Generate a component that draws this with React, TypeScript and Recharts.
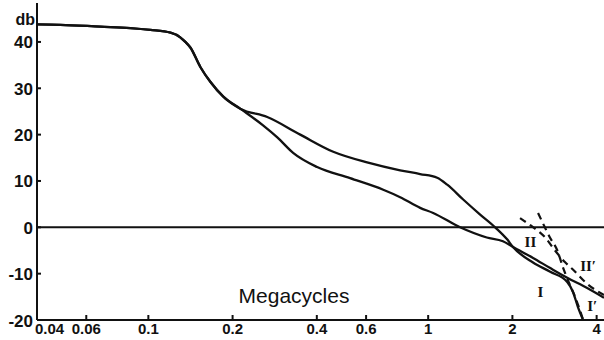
import React from "react";
import {
  LineChart,
  Line,
  XAxis,
  YAxis,
  ReferenceLine,
  ReferenceDot,
} from "recharts";

// Frequency (Megacycles) and response (db)
const curveIFreq = [0.04, 0.0485, 0.0674, 0.0862, 0.1017, 0.12, 0.13, 0.1356, 0.1413, 0.1534, 0.1665, 0.1853, 0.213, 0.266, 0.349, 0.458, 0.605, 0.794, 0.936, 1.077, 1.17, 1.334, 1.53, 1.735, 1.915, 2.01, 2.37, 2.73, 3.14, 3.29, 3.43, 3.58];
const curveIDb = [43.8, 43.7, 43.3, 43.0, 42.6, 42.0, 41.0, 40.0, 38.8, 34.6, 31.4, 28.2, 25.6, 23.8, 20.0, 16.3, 14.0, 12.3, 11.5, 10.7, 9.2, 6.0, 2.8, 0, -2.6, -4.25, -7.6, -9.6, -11.8, -13.9, -17.2, -20];

const curveIIFreq = [0.04, 0.0485, 0.0674, 0.0862, 0.1017, 0.12, 0.13, 0.1356, 0.1413, 0.1534, 0.1665, 0.1853, 0.213, 0.257, 0.289, 0.33, 0.401, 0.526, 0.691, 0.794, 0.936, 1.042, 1.3, 1.62, 1.85, 2.01, 2.37, 2.73, 3.14, 3.7, 4.25];
const curveIIDb = [43.8, 43.7, 43.3, 43.0, 42.6, 42.0, 41.0, 40.0, 38.8, 34.6, 31.4, 28.2, 25.6, 22.0, 19.4, 16.0, 13.0, 10.6, 8.1, 6.5, 4.2, 3.1, 0, -2.2, -3.0, -4.25, -6.6, -8.8, -10.9, -13.1, -15.2];

const curveIPrimeFreq = [2.47, 2.62, 2.73, 2.89, 3.03, 3.2, 3.35, 3.58];
const curveIPrimeDb = [3.1, -0.15, -2.3, -4.9, -8.6, -12.2, -15.0, -20];

const curveIIPrimeFreq = [2.13, 2.31, 2.62, 2.84, 3.08, 3.29, 3.7, 4.25];
const curveIIPrimeDb = [2.0, 0.5, -2.2, -5.0, -7.5, -9.1, -12.2, -14.6];

const xTicks = [0.04, 0.06, 0.1, 0.2, 0.4, 0.6, 1, 2, 4];
const xTickLabels = ["0.04", "0.06", "0.1", "0.2", "0.4", "0.6", "1", "2", "4"];
const yTicks = [-20, -10, 0, 10, 20, 30, 40];

const curveLabels = [
  { text: "II", f: 2.32, db: -3.1 },
  { text: "I", f: 2.52, db: -13.8 },
  { text: "II\u2032", f: 3.73, db: -8.3 },
  { text: "I\u2032", f: 3.86, db: -17.0 },
];

const zip = (fs: number[], ds: number[]) => fs.map((f, i) => ({ f, db: ds[i] }));
const dataI = zip(curveIFreq, curveIDb);
const dataII = zip(curveIIFreq, curveIIDb);
const dataIP = zip(curveIPrimeFreq, curveIPrimeDb);
const dataIIP = zip(curveIIPrimeFreq, curveIIPrimeDb);

const INK = "#111";
const FONT = "'Liberation Sans', Arial, sans-serif";

const YTick = (props: any) => {
  const { x, y, payload } = props;
  return (
    <g>
      <text
        x={x}
        y={y + 1}
        textAnchor="end"
        dominantBaseline="central"
        fontFamily={FONT}
        fontWeight="bold"
        fontSize={17}
        fill={INK}
      >
        {payload.value}
      </text>
      <line x1={x + 4} x2={x + 8} y1={y} y2={y} stroke={INK} strokeWidth={2} />
    </g>
  );
};

const XTick = (props: any) => {
  const { x, y, payload, index } = props;
  const label = xTickLabels[xTicks.indexOf(payload.value)] ?? String(payload.value);
  const first = index === 0;
  return (
    <g>
      <text
        x={first ? x - 2 : x}
        y={y}
        dy="0.78em"
        textAnchor={first ? "start" : "middle"}
        fontFamily={FONT}
        fontWeight="bold"
        fontSize={15}
        fill={INK}
      >
        {label}
      </text>
      {!first && <line x1={x} x2={x} y1={y - 2} y2={y - 7} stroke={INK} strokeWidth={2} />}
    </g>
  );
};

const YLabel = (props: any) => {
  const vb = props.viewBox || {};
  return (
    <text
      x={vb.x + vb.width - 2}
      y={vb.y + 22}
      textAnchor="end"
      fontFamily={FONT}
      fontWeight="bold"
      fontSize={16}
      fill={INK}
    >
      db
    </text>
  );
};

const XLabel = (props: any) => {
  const vb = props.viewBox || {};
  return (
    <text
      x={vb.x + 257}
      y={vb.y - 17}
      textAnchor="middle"
      fontFamily={FONT}
      fontSize={21}
      fill={INK}
    >
      Megacycles
    </text>
  );
};

export default function App() {
  return (
    <div style={{ position: "absolute", left: 0, top: 0, background: "#fff" }}>
      <LineChart
        width={604}
        height={340}
        margin={{ top: 3, right: 0, bottom: 0, left: 0 }}
      >
        <XAxis
          dataKey="f"
          type="number"
          scale="log"
          domain={[0.04, 4.25]}
          allowDataOverflow
          ticks={xTicks}
          interval={0}
          height={20}
          tickSize={0}
          tickMargin={2}
          tickLine={false}
          axisLine={{ stroke: INK, strokeWidth: 2 }}
          tick={<XTick />}
          label={<XLabel />}
        />
        <YAxis
          type="number"
          domain={[-20, 48.4]}
          allowDataOverflow
          ticks={yTicks}
          interval={0}
          width={37}
          tickSize={0}
          tickMargin={4}
          tickLine={false}
          axisLine={{ stroke: INK, strokeWidth: 2 }}
          tick={<YTick />}
          label={<YLabel />}
        />
        <ReferenceLine y={0} stroke={INK} strokeWidth={2} />
        <Line data={dataI} dataKey="db" type="monotone" stroke={INK} strokeWidth={2.3} dot={false} isAnimationActive={false} />
        <Line data={dataII} dataKey="db" type="monotone" stroke={INK} strokeWidth={2.3} dot={false} isAnimationActive={false} />
        <Line data={dataIP} dataKey="db" type="monotone" stroke={INK} strokeWidth={2.2} strokeDasharray="7 5" dot={false} isAnimationActive={false} />
        <Line data={dataIIP} dataKey="db" type="monotone" stroke={INK} strokeWidth={2.2} strokeDasharray="7 5" dot={false} isAnimationActive={false} />
        {curveLabels.map((c) => (
          <ReferenceDot
            key={c.text}
            x={c.f}
            y={c.db}
            r={0}
            fill="none"
            stroke="none"
            ifOverflow="visible"
            label={{
              value: c.text,
              position: "center",
              fontFamily: "'Liberation Serif', serif",
              fontWeight: "bold",
              fontSize: 15,
              fill: INK,
            }}
          />
        ))}
      </LineChart>
    </div>
  );
}
